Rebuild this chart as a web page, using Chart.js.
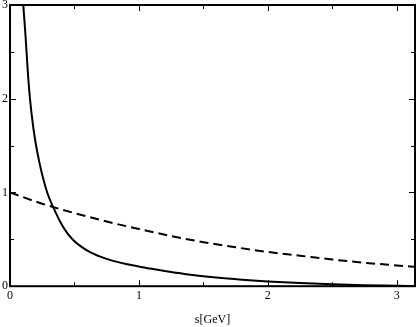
<!DOCTYPE html>
<html>
<head>
<meta charset="utf-8">
<script src="https://cdn.jsdelivr.net/npm/chart.js@4.4.0/dist/chart.umd.min.js"></script>
<style>
  html, body { margin: 0; padding: 0; background: #fff; }
  canvas { display: block; }
</style>
</head>
<body>
<canvas id="myChart" width="416" height="327" style="width:416px;height:327px"></canvas>
<script>
// solid curve
const solidS = [0.103, 0.12, 0.14, 0.155, 0.18, 0.20, 0.225, 0.25, 0.292, 0.336, 0.40, 0.45, 0.50, 0.55, 0.60,
                0.65, 0.70, 0.80, 0.90, 1.00, 1.10, 1.20, 1.40, 1.60, 1.80, 2.00, 2.25, 2.50, 2.75, 3.00, 3.14];
const solidV = [3.00, 2.68, 2.25, 2.00, 1.70, 1.52, 1.34, 1.19, 0.986, 0.84, 0.66, 0.555, 0.48, 0.425, 0.38,
                0.345, 0.315, 0.27, 0.236, 0.21, 0.185, 0.163, 0.123, 0.092, 0.069, 0.051, 0.033, 0.02, 0.01, 0.004, 0.0];

// dashed curve
const dashS = [0, 0.25, 0.5, 0.75, 1.0, 1.25, 1.5, 1.75, 2.0, 2.25, 2.5, 2.75, 3.0, 3.14];
const dashV = [1.0, 0.88, 0.78, 0.69, 0.61, 0.535, 0.47, 0.415, 0.365, 0.325, 0.285, 0.25, 0.222, 0.207];

const xMin = 0, xMax = 3.14159;
const yMin = 0, yMax = 3;
const xTitle = "s[GeV]";

const toPoints = (xs, ys) => xs.map((s, i) => ({ x: s, y: ys[i] }));

const serif = { family: "'Liberation Serif', 'DejaVu Serif', serif", size: 12 };

// frame + inward ticks on all four sides
const framePlugin = {
  id: 'frame',
  afterDraw(c) {
    const { ctx, chartArea: a, scales: { x, y } } = c;
    ctx.save();
    ctx.strokeStyle = '#000';
    ctx.lineWidth = 1;
    ctx.beginPath();
    x.ticks.forEach(t => {
      const px = Math.round(x.getPixelForValue(t.value)) + 0.5;
      const len = Number.isInteger(t.value) ? 6 : 4;
      ctx.moveTo(px, a.bottom); ctx.lineTo(px, a.bottom - len);
      ctx.moveTo(px, a.top); ctx.lineTo(px, a.top + len);
    });
    y.ticks.forEach(t => {
      const py = Math.round(y.getPixelForValue(t.value)) + 0.5;
      const len = Number.isInteger(t.value) ? 6 : 4;
      ctx.moveTo(a.left, py); ctx.lineTo(a.left + len, py);
      ctx.moveTo(a.right, py); ctx.lineTo(a.right - len, py);
    });
    ctx.stroke();
    ctx.lineWidth = 2;
    ctx.strokeRect(a.left, a.top, a.right - a.left, a.bottom - a.top);
    ctx.restore();
  }
};

const ctx = document.getElementById("myChart").getContext("2d");
const chart = new Chart(ctx, {
  type: "line",
  data: {
    datasets: [
      {
        data: toPoints(solidS, solidV),
        borderColor: "#000",
        borderWidth: 2,
        pointRadius: 0,
        cubicInterpolationMode: "monotone"
      },
      {
        data: toPoints(dashS, dashV),
        borderColor: "#000",
        borderWidth: 2,
        borderDash: [9, 5],
        pointRadius: 0,
        cubicInterpolationMode: "monotone"
      }
    ]
  },
  options: {
    responsive: false,
    animation: false,
    layout: { padding: { left: 0, right: 1, top: 0, bottom: 0 } },
    plugins: { legend: { display: false }, tooltip: { enabled: false } },
    scales: {
      x: {
        type: "linear",
        min: xMin,
        max: xMax,
        grid: { display: false, drawTicks: false },
        border: { display: false },
        ticks: {
          stepSize: 0.5,
          includeBounds: false,
          autoSkip: false,
          maxRotation: 0,
          padding: 2,
          color: "#000",
          font: serif,
          callback: v => Number.isInteger(v) ? String(v) : ""
        },
        title: { display: true, text: xTitle, color: "#000", font: serif, padding: { top: 8, bottom: 0 } }
      },
      y: {
        type: "linear",
        min: yMin,
        max: yMax,
        grid: { display: false, drawTicks: false },
        border: { display: false },
        // let the top label sit at the frame like the original
        afterFit: s => { s.paddingTop = 5; },
        ticks: {
          stepSize: 0.5,
          autoSkip: false,
          padding: 2,
          color: "#000",
          font: serif,
          callback: v => Number.isInteger(v) ? String(v) : ""
        }
      }
    }
  },
  plugins: [framePlugin]
});
</script>
</body>
</html>
